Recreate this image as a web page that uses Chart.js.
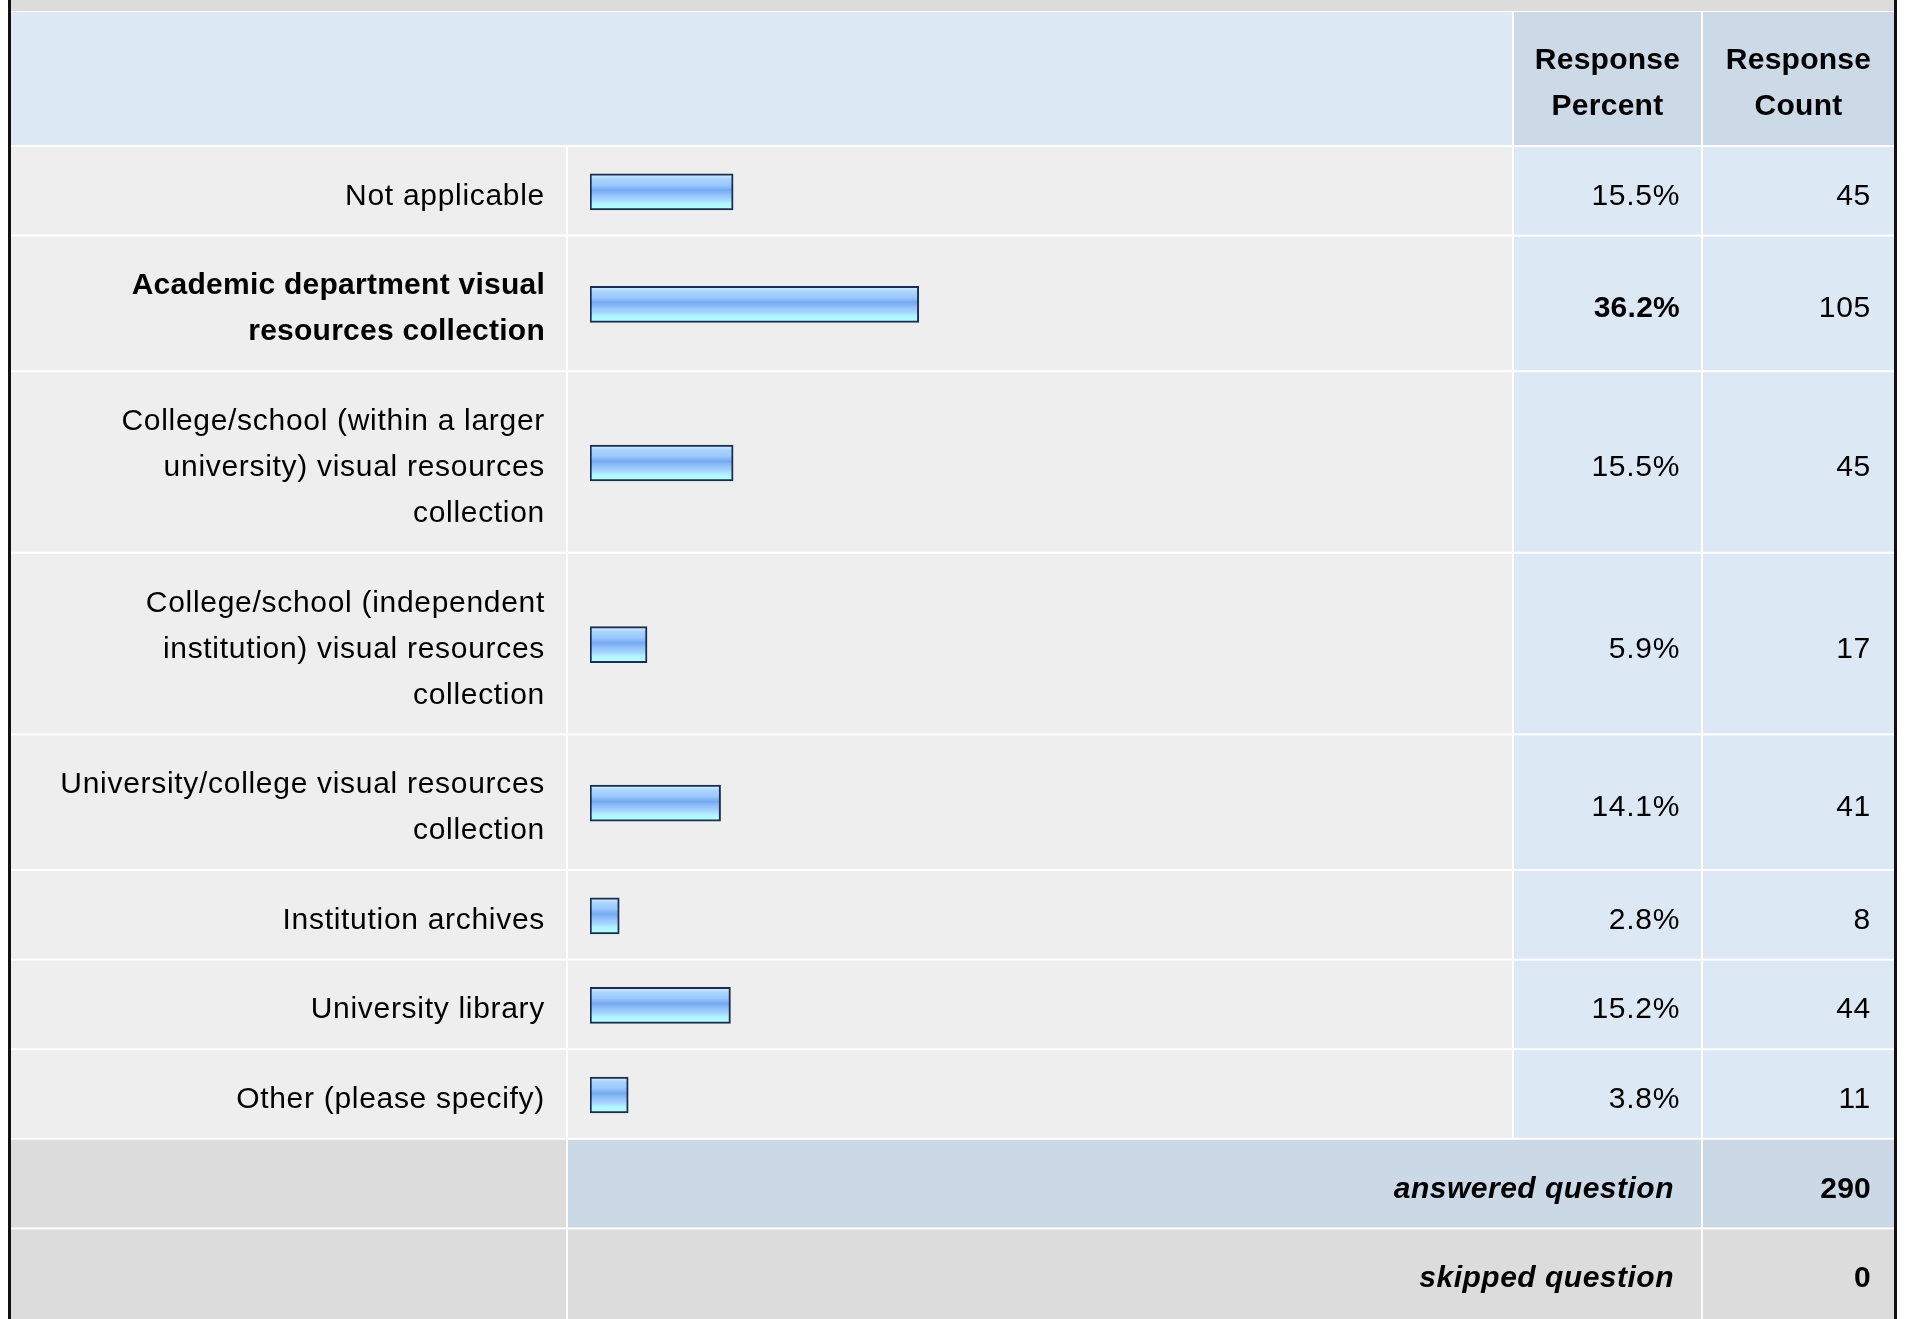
<!DOCTYPE html>
<html lang="en">
<head>
    <meta charset="UTF-8">
    <title>Response table</title>
    <script src="https://cdn.jsdelivr.net/npm/chart.js@4.4.1/dist/chart.umd.min.js"></script>
    <style>
        body, html {
            margin: 0;
            padding: 0;
            background: #ffffff;
        }
        canvas {
            display: block;
        }
    </style>
</head>
<body>
    <canvas id="myChart" width="1909" height="1319"></canvas>

    <script>
        // Answer choices (one entry per line of the label)
        const categories = [
            ['Not applicable'],
            ['Academic department visual', 'resources collection'],
            ['College/school (within a larger', 'university) visual resources', 'collection'],
            ['College/school (independent', 'institution) visual resources', 'collection'],
            ['University/college visual resources', 'collection'],
            ['Institution archives'],
            ['University library'],
            ['Other (please specify)']
        ];
        const percents = [15.5, 36.2, 15.5, 5.9, 14.1, 2.8, 15.2, 3.8];
        const counts = [45, 105, 45, 17, 41, 8, 44, 11];
        const headerLabels = [['Response', 'Percent'], ['Response', 'Count']];
        const answeredLabel = 'answered question';
        const answeredCount = 290;
        const skippedLabel = 'skipped question';
        const skippedCount = 0;

        // Table layout
        const W = 1909, H = 1319;
        const LINE = 46, PAD = 43.6, TOP = 147;
        const xLabel = 11, xBar = 568, xPct = 1514, xCnt = 1703, xEnd = 1894;
        const FONT = '"Liberation Sans", Arial, sans-serif';
        const BAR_BASE = -0.46;   // bars carry a few px of stub before 0%

        const rows = [];
        let yy = TOP;
        categories.forEach(c => {
            const h = PAD + LINE * c.length;
            rows.push({ top: yy, h: h, mid: yy + h / 2 });
            yy += h;
        });
        const answeredRow = { top: yy, h: PAD + LINE };
        const skippedRow = { top: yy + PAD + LINE, h: PAD + LINE };
        const best = percents.indexOf(Math.max(...percents));

        function cell(ctx, x0, y0, x1, y1, color) {
            ctx.fillStyle = color;
            ctx.fillRect(x0, y0, x1 - x0 - 2, y1 - y0 - 2);
        }

        // text centred on a line at y, drawn on its baseline
        function text(ctx, str, x, y, align, style) {
            const bold = style && style.indexOf('bold') >= 0;
            ctx.font = (style || '') + ' 30px ' + FONT;
            ctx.letterSpacing = bold ? (style.indexOf('italic') >= 0 ? '0.5px' : '0.25px') : '0.7px';
            ctx.textAlign = align;
            ctx.textBaseline = 'alphabetic';
            ctx.fillStyle = '#000000';
            ctx.fillText(str, x, y + 13);
        }

        const tablePlugin = {
            id: 'tablePlugin',
            beforeDraw(chart) {
                const ctx = chart.ctx;
                ctx.save();
                ctx.fillStyle = '#ffffff';
                ctx.fillRect(0, 0, W, H);

                // top band and header
                ctx.fillStyle = '#dcdcdc';
                ctx.fillRect(xLabel, 0, xEnd - xLabel, 11);
                cell(ctx, xLabel, 12, xPct, TOP, '#dde8f5');
                cell(ctx, xPct, 12, xCnt, TOP, '#ccd9e6');
                cell(ctx, xCnt, 12, xEnd + 2, TOP, '#ccd9e6');
                headerLabels.forEach((lines, j) => {
                    const cx = j === 0 ? (xPct + xCnt - 2) / 2 : (xCnt + xEnd) / 2;
                    lines.forEach((l, k) => {
                        text(ctx, l, cx, (12 + TOP) / 2 + (k - 0.5) * LINE - 1, 'center', 'bold');
                    });
                });

                // answer rows
                rows.forEach((r, i) => {
                    const bottom = r.top + r.h;
                    cell(ctx, xLabel, r.top, xBar, bottom, '#eeeeee');
                    cell(ctx, xBar, r.top, xPct, bottom, '#eeeeee');
                    cell(ctx, xPct, r.top, xCnt, bottom, '#dde8f5');
                    cell(ctx, xCnt, r.top, xEnd + 2, bottom, '#dde8f5');
                    const n = categories[i].length;
                    const style = i === best ? 'bold' : '';
                    categories[i].forEach((l, k) => {
                        text(ctx, l, 545, r.mid + (k - (n - 1) / 2) * LINE, 'right', style);
                    });
                    text(ctx, percents[i].toFixed(1) + '%', 1680, r.mid, 'right', style);
                    text(ctx, String(counts[i]), 1871, r.mid, 'right', '');
                });

                // summary rows
                const a = answeredRow, s = skippedRow;
                cell(ctx, xLabel, a.top, xBar, a.top + a.h, '#dcdcdc');
                cell(ctx, xBar, a.top, xCnt, a.top + a.h, '#cbd8e6');
                cell(ctx, xCnt, a.top, xEnd + 2, a.top + a.h, '#cbd8e6');
                text(ctx, answeredLabel, 1674, a.top + a.h / 2, 'right', 'italic bold');
                text(ctx, String(answeredCount), 1871, a.top + a.h / 2, 'right', 'bold');

                cell(ctx, xLabel, s.top, xBar, H + 2, '#dcdcdc');
                cell(ctx, xBar, s.top, xCnt, H + 2, '#dcdcdc');
                cell(ctx, xCnt, s.top, xEnd + 2, H + 2, '#dcdcdc');
                text(ctx, skippedLabel, 1674, s.top + s.h / 2, 'right', 'italic bold');
                text(ctx, String(skippedCount), 1871, s.top + s.h / 2, 'right', 'bold');

                // outer frame
                ctx.fillStyle = '#111111';
                ctx.fillRect(8, 0, 3, H);
                ctx.fillRect(xEnd, 0, 3, H);
                ctx.restore();
            }
        };

        // Bar fill: glossy blue stripes
        function barFill(context) {
            const chart = context.chart;
            const scale = chart.scales && chart.scales.y;
            const yv = context.raw && context.raw.y;
            const yc = scale && yv !== undefined ? scale.getPixelForValue(yv) : NaN;
            if (!isFinite(yc)) return '#98c8ff';
            const g = chart.ctx.createLinearGradient(0, yc - 17, 0, yc + 17);
            g.addColorStop(0, '#d4ecff');
            g.addColorStop(0.12, '#aad5ff');
            g.addColorStop(0.3, '#98c8ff');
            g.addColorStop(0.45, '#76a9f0');
            g.addColorStop(0.58, '#8fc0fa');
            g.addColorStop(0.72, '#a6d4ff');
            g.addColorStop(0.85, '#b0f4ff');
            g.addColorStop(1, '#b6ffff');
            return g;
        }

        const ctx = document.getElementById('myChart').getContext('2d');
        const myChart = new Chart(ctx, {
            type: 'bar',
            data: {
                datasets: [{
                    data: percents.map((p, i) => ({ x: p, y: rows[i].mid })),
                    backgroundColor: barFill,
                    borderColor: '#182f50',
                    borderWidth: 2,
                    borderSkipped: false,
                    barThickness: 36,
                    base: BAR_BASE
                }]
            },
            options: {
                responsive: false,
                animation: false,
                indexAxis: 'y',
                layout: {
                    padding: { left: 590, right: 410, top: 0, bottom: 0 }
                },
                plugins: {
                    legend: { display: false },
                    tooltip: { enabled: false }
                },
                scales: {
                    x: { type: 'linear', min: BAR_BASE, max: 100.9, display: false },
                    y: { type: 'linear', min: 0, max: H, reverse: true, offset: false, display: false }
                }
            },
            plugins: [tablePlugin]
        });
    </script>
</body>
</html>
